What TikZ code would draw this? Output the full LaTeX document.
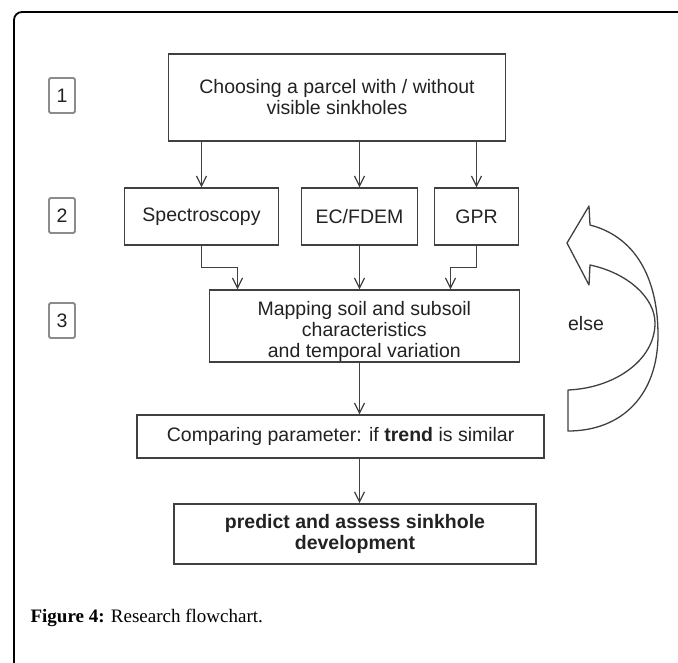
\documentclass[tikz,border=0pt]{standalone}
\usepackage{fontspec}
\setmainfont{Liberation Serif}
\setsansfont{Liberation Sans}
\usepackage{tikz}
\usetikzlibrary{arrows.meta,positioning}

\definecolor{linegray}{HTML}{404040}
\definecolor{labelgray}{HTML}{8C8C8C}
\definecolor{textdark}{HTML}{222222}

\begin{document}
\begin{tikzpicture}[x=1pt,y=-1pt,draw=linegray,>={Straight Barb[length=10pt,width=10pt]},line width=1.2pt]
	\tikzstyle{boxtext}=[inner sep=0pt,align=center,text=textdark,
	font=\sffamily\fontsize{19.5}{21}\selectfont
	];
	\tikzstyle{box}=[boxtext,draw,rectangle,line width=1.4pt];
	\tikzstyle{stage}=[box,draw=labelgray,line width=1.8pt,rounded corners=1.5pt,
	minimum width=26pt,minimum height=35pt];
	\tikzstyle{flow}=[->,line width=1.2pt];
\useasboundingbox (0,0) rectangle (678,662);
\draw[black,line width=1.8pt,rounded corners=8pt] (14,675) -- (14,12) -- (690,12);

\node[stage](st1) at (62,95.5){1};
\node[stage](st2) at (62,215.5){2};
\node[stage](st3) at (62,320.5){3};

\node[box,minimum width=337pt,minimum height=87pt](choose) at (337,97.5){Choosing a parcel with / without\\visible sinkholes};
\node[box,minimum width=154pt,minimum height=57pt](spec) at (201.5,216.5){Spectroscopy};
\node[box,minimum width=116pt,minimum height=57pt](ec) at (359.5,216.5){EC/FDEM};
\node[box,minimum width=84pt,minimum height=57pt](gpr) at (476.5,216.5){GPR};
\node[box,minimum width=310pt,minimum height=72pt](map) at (364.3,326){};
\node[boxtext](maptext) at ([yshift=-5pt]map.center){Mapping soil and subsoil\\characteristics\\and temporal variation};
\node[box,minimum width=407pt,minimum height=43pt](compare) at (340.6,436.5){Comparing parameter: if \textbf{trend} is similar};
\node[box,line width=1.8pt,minimum width=362pt,minimum height=60pt](predict) at (355,534){\textbf{predict and assess sinkhole}\\\textbf{development}};
\node[boxtext](else) at (586,323.5){else};

\coordinate (in1) at (map.north -| 237.5,0);
\coordinate (in3) at (map.north -| 450.5,0);

\draw [flow] (choose.south -| spec) -- (spec.north);
\draw [flow] (choose.south -| ec) -- (ec.north);
\draw [flow] (choose.south -| gpr) -- (gpr.north);

\draw [flow] (spec.south) -- ++(0,22) -| (in1);
\draw [flow] (ec.south) -- (map.north -| ec);
\draw [flow] (gpr.south) -- ++(0,22) -| (in3);

\draw [flow] (map.south -| ec) -- (compare.north -| ec);
\draw [flow] (compare.south -| ec) -- (predict.north -| ec);

% curved block arrow (else)
\draw[line width=1.3pt,line join=round] (567,243) -- (589,206) -- (590,225)
	.. controls (640,238) and (658,285) .. (658,335)
	.. controls (658,395) and (622,431) .. (568,431) -- (568,390)
	.. controls (615,388) and (655,360) .. (655,323)
	.. controls (655,298) and (628,273) .. (590,265) -- (589,285) -- cycle;

\node[anchor=base west,inner sep=0pt,font=\fontsize{19}{21}\selectfont](caption) at (30,622){\textbf{Figure 4:} Research flowchart.};

\end{tikzpicture}
\end{document}
